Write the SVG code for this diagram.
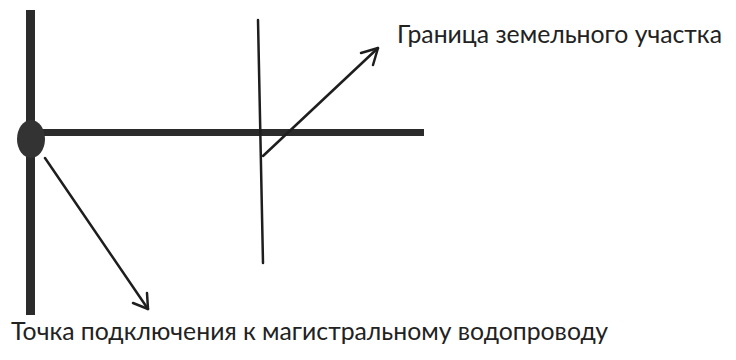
<svg xmlns="http://www.w3.org/2000/svg" width="736" height="360" viewBox="0 0 736 360">
<style>
.thick{stroke:#2b2b2b;fill:none}
.thin{stroke:#1e1e1e;stroke-width:2.5;fill:none;stroke-linecap:round;stroke-linejoin:round}
.lbl{font-family:Lato,"Open Sans","Liberation Sans",sans-serif;font-size:25px;fill:#222}
</style>
<rect width="736" height="360" fill="#ffffff"/>
<g id="pipes">
<line class="thick" x1="30.5" y1="10" x2="30.5" y2="315" stroke-width="9"/>
<line class="thick" x1="31" y1="132.5" x2="424" y2="132.5" stroke-width="7"/>
</g>
<g id="connection-point">
<ellipse cx="31" cy="139" rx="14" ry="19" fill="#333"/>
</g>
<g id="boundary">
<line class="thin" x1="258" y1="20" x2="263" y2="263"/>
</g>
<g id="connectors">
<polyline class="thin" points="263,156 378,48"/>
<polyline class="thin" points="361,53 378,48 373,65"/>
<polyline class="thin" points="45,158 148,309"/>
<polyline class="thin" points="133,303 148,309 147,293"/>
</g>
<g id="label-boundary">
<text class="lbl" x="397" y="43" textLength="325" lengthAdjust="spacingAndGlyphs">Граница земельного участка</text>
</g>
<g id="label-point">
<text class="lbl" x="11" y="340" textLength="597" lengthAdjust="spacingAndGlyphs">Точка подключения к магистральному водопроводу</text>
</g>
</svg>
